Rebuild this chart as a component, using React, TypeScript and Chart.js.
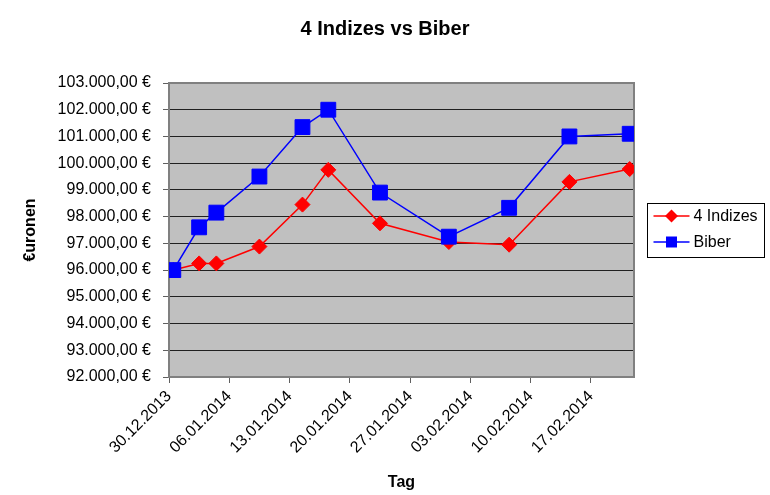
import React, { useEffect, useRef } from "react";
import { Chart, registerables } from "chart.js";

Chart.register(...registerables);

const TITLE = "4 Indizes vs Biber";
const X_TITLE = "Tag";
const Y_TITLE = "€uronen";
const SERIES_NAMES = ["4 Indizes", "Biber"];
const SERIES_COLORS = ["#FF0000", "#0000FF"];

const DATES = [
  "30.12.2013",
  "02.01.2014",
  "04.01.2014",
  "09.01.2014",
  "14.01.2014",
  "17.01.2014",
  "23.01.2014",
  "31.01.2014",
  "07.02.2014",
  "14.02.2014",
  "21.02.2014",
];
const INDIZES = [96000, 96250, 96250, 96880, 98450, 99750, 97750, 97050, 96950, 99300, 99780];
const BIBER = [96000, 97600, 98150, 99500, 101350, 102000, 98900, 97250, 98330, 101000, 101100];

const AXIS_START = "30.12.2013";
const AXIS_DAYS = 54;
const TICK_STEP_DAYS = 7;
const Y_MIN = 92000;
const Y_MAX = 103000;
const Y_STEP = 1000;

const FONT = '"Liberation Sans", Arial, sans-serif';
const DAY_MS = 86400000;

function parseDate(s: string): number {
  const [d, m, y] = s.split(".").map(Number);
  return Date.UTC(y, m - 1, d);
}
const START_MS = parseDate(AXIS_START);
function dayPos(s: string): number {
  return (parseDate(s) - START_MS) / DAY_MS + 0.5;
}
function pad2(n: number): string {
  return n < 10 ? "0" + n : String(n);
}
function fmtDay(v: number): string {
  const d = new Date(START_MS + Math.round(v) * DAY_MS);
  return pad2(d.getUTCDate()) + "." + pad2(d.getUTCMonth() + 1) + "." + d.getUTCFullYear();
}
function fmtEuro(v: number): string {
  const s = Math.round(v)
    .toString()
    .replace(/\B(?=(\d{3})+(?!\d))/g, ".");
  return s + ",00 €";
}

const decor = {
  id: "decor",
  beforeDraw(chart: any) {
    const { ctx, chartArea: a } = chart;
    ctx.save();
    ctx.fillStyle = "#FFFFFF";
    ctx.fillRect(0, 0, chart.width, chart.height);
    ctx.fillStyle = "#C0C0C0";
    ctx.fillRect(a.left, a.top, a.right - a.left, a.bottom - a.top);
    ctx.restore();
  },
  beforeDatasetsDraw(chart: any) {
    const { ctx, chartArea: a } = chart;
    ctx.save();
    ctx.strokeStyle = "#808080";
    ctx.lineWidth = 2;
    ctx.strokeRect(a.left, a.top, a.right - a.left, a.bottom - a.top);
    ctx.restore();
  },
  afterDraw(chart: any) {
    const { ctx, chartArea: a } = chart;
    ctx.save();
    // title
    ctx.fillStyle = "#000";
    ctx.font = "bold 20px " + FONT;
    ctx.textAlign = "center";
    ctx.textBaseline = "middle";
    ctx.fillText(TITLE, chart.width / 2, 29);
    // legend
    const bx = a.right + 13.5;
    const by = 203.5;
    const bw = 117;
    const bh = 54;
    ctx.fillStyle = "#FFFFFF";
    ctx.fillRect(bx, by, bw, bh);
    ctx.strokeStyle = "#000";
    ctx.lineWidth = 1;
    ctx.strokeRect(bx, by, bw, bh);
    const rows = [216, 242];
    SERIES_NAMES.forEach((name, i) => {
      const y = rows[i];
      const c = SERIES_COLORS[i];
      ctx.strokeStyle = c;
      ctx.lineWidth = 1.5;
      ctx.beginPath();
      ctx.moveTo(bx + 6, y);
      ctx.lineTo(bx + 42, y);
      ctx.stroke();
      ctx.fillStyle = c;
      const mx = bx + 24;
      ctx.beginPath();
      if (i === 0) {
        const r = 6.5;
        ctx.moveTo(mx - r, y);
        ctx.lineTo(mx, y - r);
        ctx.lineTo(mx + r, y);
        ctx.lineTo(mx, y + r);
        ctx.closePath();
      } else {
        ctx.rect(mx - 5.5, y - 5.5, 11, 11);
      }
      ctx.fill();
      ctx.fillStyle = "#000";
      ctx.font = "16px " + FONT;
      ctx.textAlign = "left";
      ctx.textBaseline = "middle";
      ctx.fillText(name, bx + 46, y + 1);
    });
    ctx.restore();
  },
};

export default function App() {
  const ref = useRef<HTMLCanvasElement | null>(null);
  useEffect(() => {
    if (!ref.current) return;
    const mk = (vals: number[]) => DATES.map((d, i) => ({ x: dayPos(d), y: vals[i] }));
    const chart = new Chart(ref.current, {
      type: "line",
      data: {
        datasets: [
          {
            label: SERIES_NAMES[0],
            data: mk(INDIZES),
            borderColor: SERIES_COLORS[0],
            backgroundColor: SERIES_COLORS[0],
            borderWidth: 1.5,
            pointStyle: "rectRot",
            pointRadius: 7.5,
            pointBorderWidth: 1,
            order: 1,
          },
          {
            label: SERIES_NAMES[1],
            data: mk(BIBER),
            borderColor: SERIES_COLORS[1],
            backgroundColor: SERIES_COLORS[1],
            borderWidth: 1.5,
            pointStyle: "rect",
            pointRadius: 10.5,
            pointBorderWidth: 1,
            order: 0,
          },
        ],
      },
      options: {
        animation: false,
        responsive: false,
        devicePixelRatio: 1,
        layout: { padding: { top: 83, right: 136, left: 0, bottom: 0 } },
        plugins: {
          legend: { display: false },
          title: { display: false },
          tooltip: { enabled: false },
        },
        scales: {
          x: {
            type: "linear",
            min: 0,
            max: AXIS_DAYS,
            afterBuildTicks: (s: any) => {
              s.ticks = s.ticks.filter((t: any) => t.value % TICK_STEP_DAYS === 0 && t.value < AXIS_DAYS);
            },
            afterFit: (s: any) => {
              s.height = 118;
            },
            ticks: {
              stepSize: TICK_STEP_DAYS,
              minRotation: 45,
              maxRotation: 45,
              autoSkip: false,
              padding: 4,
              color: "#000",
              font: { family: FONT, size: 16 },
              callback: (v: any) => fmtDay(Number(v)),
            },
            grid: {
              drawOnChartArea: false,
              drawTicks: true,
              tickLength: 6,
              color: "#606060",
            },
            border: { display: false },
            title: {
              display: true,
              text: X_TITLE,
              color: "#000",
              font: { family: FONT, size: 16, weight: "bold" },
              padding: { top: 0, bottom: 3 },
            },
          },
          y: {
            min: Y_MIN,
            max: Y_MAX,
            afterFit: (s: any) => {
              s.width = 169;
            },
            ticks: {
              stepSize: Y_STEP,
              padding: 12,
              color: "#000",
              font: { family: FONT, size: 16 },
              callback: (v: any) => fmtEuro(Number(v)),
            },
            grid: {
              color: "#202020",
              lineWidth: 1,
              tickLength: 6,
              tickColor: "#606060",
            },
            border: { display: false },
            title: {
              display: true,
              text: Y_TITLE,
              color: "#000",
              font: { family: FONT, size: 16, weight: "bold" },
              padding: { top: 21, bottom: 0 },
            },
          },
        },
      },
      plugins: [decor],
    });
    return () => chart.destroy();
  }, []);
  return (
    <div style={{ position: "absolute", left: 0, top: 0, width: 770, height: 495 }}>
      <canvas ref={ref} width={770} height={495} style={{ display: "block" }} />
    </div>
  );
}
